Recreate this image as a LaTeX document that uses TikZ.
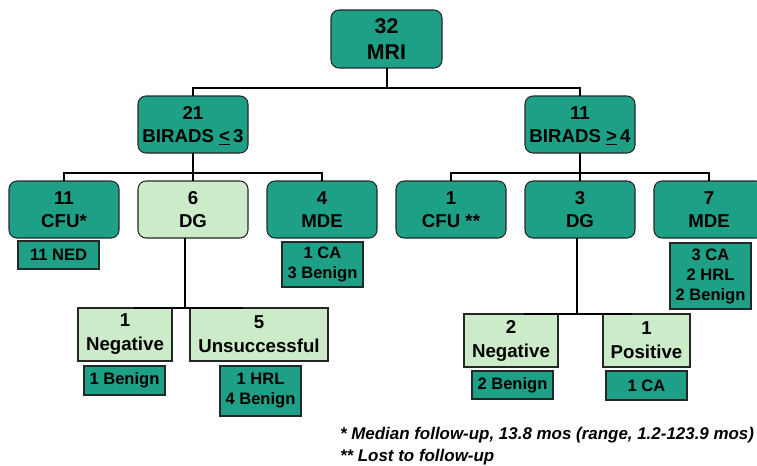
\documentclass[tikz,border=0pt]{standalone}
\usepackage{fontspec}
\setmainfont{Liberation Sans}
\usetikzlibrary{calc}
\definecolor{teal1}{RGB}{30,160,135}
\definecolor{lgreen}{RGB}{204,235,200}
\begin{document}
\begin{tikzpicture}[x=0.75pt,y=-0.75pt,
  every node/.style={inner sep=0pt, outer sep=0pt, align=center, font=\bfseries},
  rbox/.style={draw=black!85, line width=0.8pt, rounded corners=6pt, fill=teal1, minimum width=82.5pt, minimum height=42.75pt},
  rboxl/.style={rbox, fill=lgreen},
  lev/.style={font=\fontsize{14}{17}\selectfont\bfseries},
  res/.style={draw=black!85, line width=0.8pt, fill=teal1, minimum width=60.75pt, font=\fontsize{12.4}{15}\selectfont\bfseries},
  sq/.style={draw=black!85, line width=0.8pt, fill=lgreen, minimum height=39.75pt, font=\fontsize{14}{18}\selectfont\bfseries},
  conn/.style={draw=black, line width=1.5pt}]
\useasboundingbox (0,0) rectangle (757,465);
% root
\node[rbox, minimum width=83.25pt, minimum height=43.5pt, font=\fontsize{16}{19.5}\selectfont\bfseries] (root) at (386.5,39) {32\\MRI};
% level 1
\node[rbox, lev, text depth=0pt] (b3) at (193,124.5) {21\\BIRADS \underline{<}\,3};
\node[rbox, lev, text depth=0pt] (b4) at (580,124.5) {11\\BIRADS \underline{>}\,4};
% level 2
\node[rbox, lev] (cfu1) at (64,209.5) {11\\CFU*};
\node[rboxl, lev] (dgl) at (193,209.5) {6\\DG};
\node[rbox, lev] (mdel) at (322,209.5) {4\\MDE};
\node[rbox, lev] (cfu2) at (451,209.5) {1\\CFU **};
\node[rbox, lev] (dgr) at (580,209.5) {3\\DG};
\node[rbox, lev] (mder) at (709,209.5) {7\\MDE};
% results level 2
\node[res, minimum height=21pt] (ned) at (58.5,255) {11 NED};
\node[res, minimum height=33.75pt] (cal) at (322.5,264.5) {1 CA\\3 Benign};
\node[res, minimum height=49.5pt] (car) at (710.5,276) {3 CA\\2 HRL\\2 Benign};
% DG children
\node[sq, minimum width=70.5pt] (negl) at (125,334.5) {1\\Negative};
\node[sq, minimum width=103.5pt] (unsl) at (259,334.5) {5\\Unsuccessful};
\node[sq, minimum width=70.5pt] (negr) at (511,340.5) {2\\Negative};
\node[sq, minimum width=65.25pt] (posr) at (646.5,340.5) {1\\Positive};
% results level 3
\node[res, minimum height=21.75pt] (ben1) at (124.5,380.5) {1 Benign};
\node[res, minimum height=37.5pt] (hrl) at (260.5,391) {1 HRL\\4 Benign};
\node[res, minimum height=21pt] (ben2) at (512.5,385) {2 Benign};
\node[res, minimum height=21.75pt] (ca1) at (646.5,385.5) {1 CA};
% connectors
\draw[conn] (root.south) -- ++(0,20) -| (b3.north);
\draw[conn] (root.south) -- ++(0,20) -| (b4.north);
\foreach \c in {cfu1,dgl,mdel} \draw[conn] (b3.south) -- ++(0,20) -| (\c.north);
\foreach \c in {cfu2,dgr,mder} \draw[conn] (b4.south) -- ++(0,20) -| (\c.north);
\coordinate (jl) at (185,307.5);
\coordinate (jla) at (134,307.5);
\coordinate (jlb) at (243,307.5);
\draw[conn] (dgl.south -| jl) -- (jl);
\draw[conn] (jla) -- (jlb);
\coordinate (jr) at (577,313.5);
\coordinate (jra) at (524,313.5);
\coordinate (jrb) at (632,313.5);
\draw[conn] (dgr.south -| jr) -- (jr);
\draw[conn] (jra) -- (jrb);
% footnotes
\node[anchor=base west, font=\fontsize{12.7}{15}\selectfont\bfseries\itshape] (fn1) at (340,439) {* Median follow-up, 13.8 mos (range, 1.2-123.9 mos)};
\node[anchor=base west, font=\fontsize{12.7}{15}\selectfont\bfseries\itshape] (fn2) at (340,461) {** Lost to follow-up};
\end{tikzpicture}
\end{document}
